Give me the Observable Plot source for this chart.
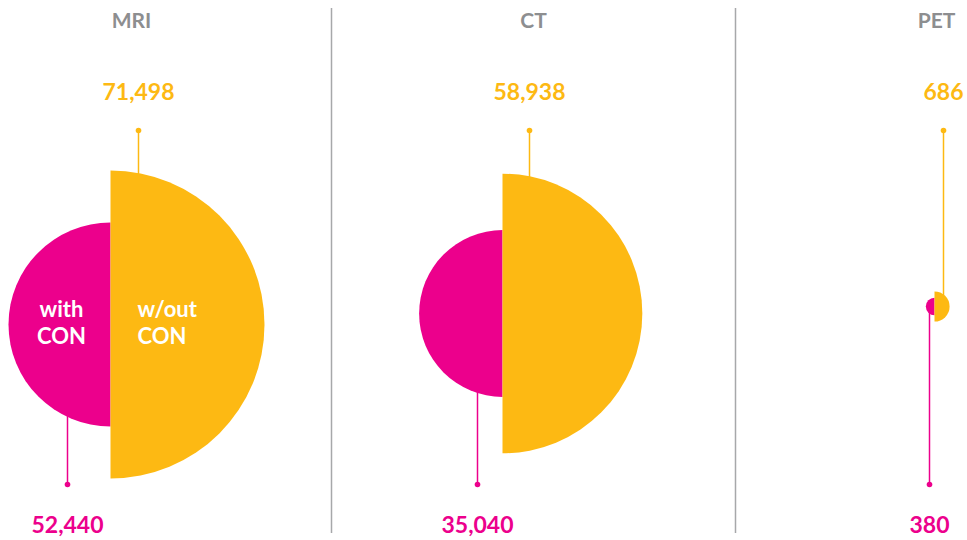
<!DOCTYPE html>
<html>
<head>
<meta charset="utf-8">
<script src="https://cdn.jsdelivr.net/npm/d3@7"></script>
<script src="https://cdn.jsdelivr.net/npm/@observablehq/plot@0.6"></script>
<style>
  html, body { margin: 0; padding: 0; background: #ffffff; }
  #chart { width: 967px; height: 540px; }
</style>
</head>
<body>
<div id="chart"></div>
<script>
// ---- data ----
const modalities = ["MRI", "CT", "PET"];
const withCon = [52440, 35040, 380];
const withoutCon = [71498, 58938, 686];
const seriesLabels = ["with\nCON", "w/out\nCON"];

// ---- layout (pixel positions, not data) ----
const centerX = [110, 502, 934];
const centerY = [324, 313, 306];
const titleX = [131, 533, 936];
const topLineX = [138, 529, 943];
const bottomLineX = [67, 477, 929];
const dividerX = [331, 735];

const PINK = "#EC008C";
const YELLOW = "#FDB913";
const GREY = "#8D8E90";
const FONT = "Lato, 'Open Sans', sans-serif";

// radius scales (area-proportional), one per series
const rWithout = Plot.scale({r: {type: "sqrt", domain: [0, d3.max(withoutCon)], range: [0, 154]}});
const rWith = Plot.scale({r: {type: "sqrt", domain: [0, d3.max(withCon)], range: [0, 102]}});

const rows = modalities.map((m, i) => ({
  modality: m,
  withCon: withCon[i],
  withoutCon: withoutCon[i],
  cx: centerX[i],
  cy: centerY[i],
  tx: titleX[i],
  topX: topLineX[i],
  botX: bottomLineX[i],
  rW: rWith.apply(withCon[i]),
  rO: rWithout.apply(withoutCon[i])
}));

const fmt = d3.format(",");

const leftHalf = {
  draw(context, size) {
    const r = Math.sqrt(size / Math.PI);
    context.moveTo(0, -r);
    context.arc(0, 0, r, -Math.PI / 2, Math.PI / 2, true);
    context.closePath();
  }
};
const rightHalf = {
  draw(context, size) {
    const r = Math.sqrt(size / Math.PI);
    context.moveTo(0, -r);
    context.arc(0, 0, r, -Math.PI / 2, Math.PI / 2, false);
    context.closePath();
  }
};

const TOP_Y = 130, BOTTOM_Y = 484;

const chart = Plot.plot({
  width: 967,
  height: 540,
  margin: 0,
  x: {type: "identity", axis: null},
  y: {type: "identity", axis: null},
  r: {type: "identity"},
  style: {fontFamily: FONT, background: "#ffffff"},
  marks: [
    // dividers
    Plot.ruleX(dividerX, {x: d => d, y1: 8, y2: 533, stroke: "#A7A8AA", strokeWidth: 1.5}),
    // leader lines
    Plot.link(rows, {x1: "topX", x2: "topX", y1: TOP_Y, y2: "cy", stroke: YELLOW, strokeWidth: 1.5}),
    Plot.link(rows, {x1: "botX", x2: "botX", y1: "cy", y2: BOTTOM_Y, stroke: PINK, strokeWidth: 1.5}),
    Plot.dot(rows, {x: "topX", y: TOP_Y, r: 2.8, fill: YELLOW}),
    Plot.dot(rows, {x: "botX", y: BOTTOM_Y, r: 2.8, fill: PINK}),
    // half circles
    Plot.dot(rows, {x: "cx", y: "cy", r: "rW", symbol: leftHalf, fill: PINK, stroke: null}),
    Plot.dot(rows, {x: "cx", y: "cy", r: "rO", symbol: rightHalf, fill: YELLOW, stroke: null}),
    // titles
    Plot.text(rows, {x: "tx", y: 27, text: "modality", lineAnchor: "bottom", fill: GREY, fontSize: 21, fontWeight: 700}),
    // values
    Plot.text(rows, {x: "topX", y: 99, text: d => fmt(d.withoutCon), lineAnchor: "bottom", fill: YELLOW, fontSize: 23, fontWeight: 700}),
    Plot.text(rows, {x: "botX", y: 532, text: d => fmt(d.withCon), lineAnchor: "bottom", fill: PINK, fontSize: 23, fontWeight: 700}),
    // series labels inside the first pair
    Plot.text(rows.slice(0, 1), {x: d => d.cx - 49, y: 343, text: () => seriesLabels[0], lineAnchor: "bottom", lineHeight: 1.22, textAnchor: "middle", fill: "#ffffff", fontSize: 22, fontWeight: 700}),
    Plot.text(rows.slice(0, 1), {x: d => d.cx + 27, y: 343, text: () => seriesLabels[1], lineAnchor: "bottom", lineHeight: 1.22, textAnchor: "start", fill: "#ffffff", fontSize: 22, fontWeight: 700})
  ]
});

document.getElementById("chart").appendChild(chart);
</script>
</body>
</html>
